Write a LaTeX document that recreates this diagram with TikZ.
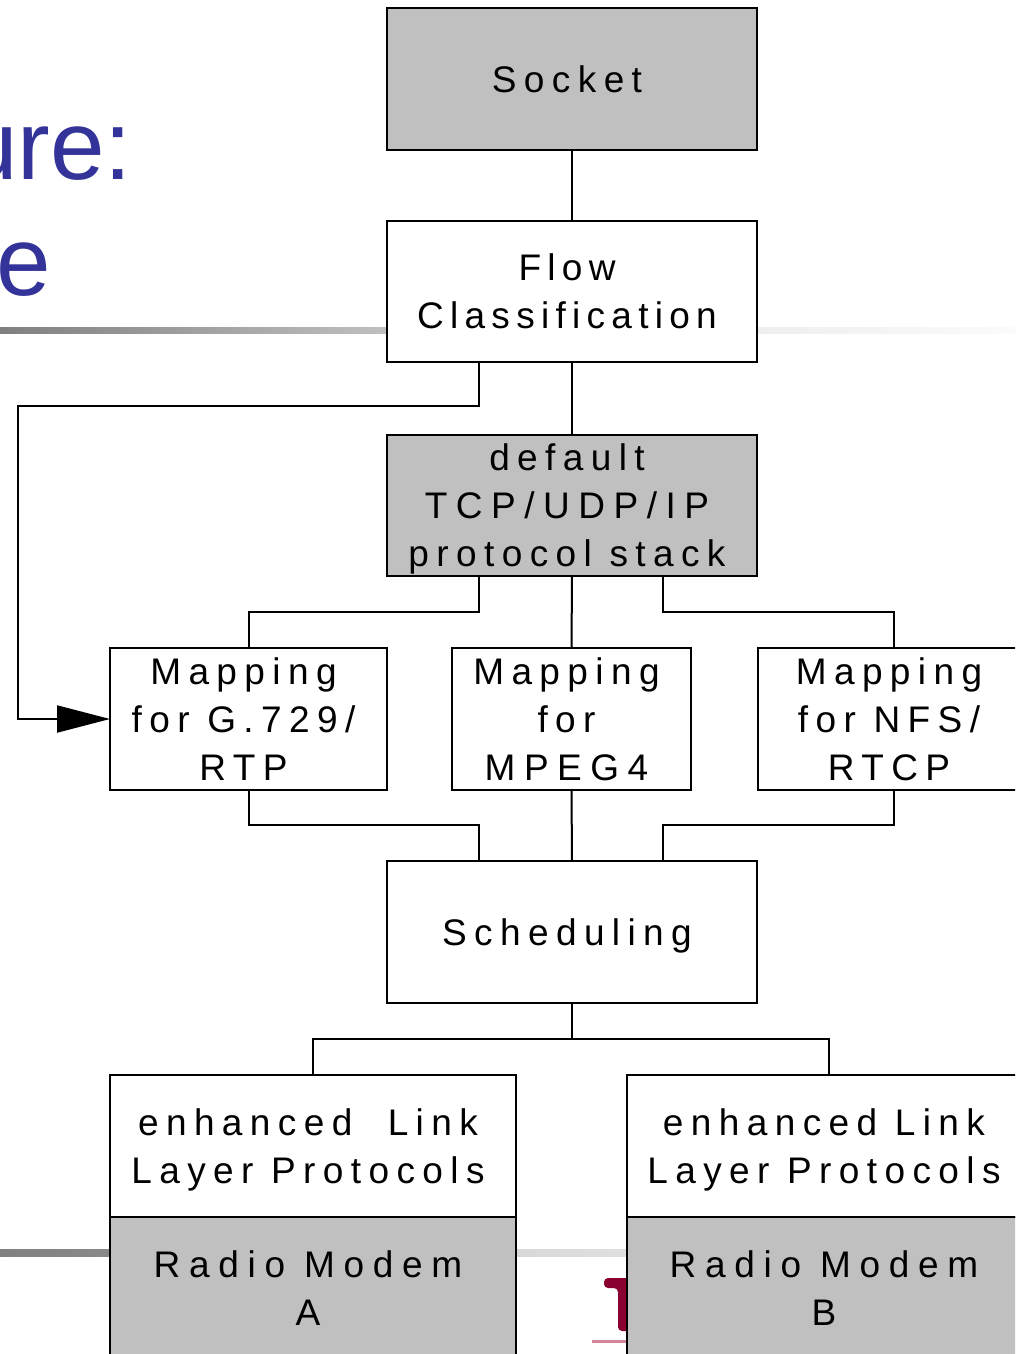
\documentclass[tikz,border=0pt]{standalone}
\usepackage{fontspec}
\setmainfont{Liberation Sans}
\newfontfamily\boxfont[LetterSpace=20]{Liberation Sans}
\newfontfamily\flowfont[LetterSpace=17]{Liberation Sans}
\newfontfamily\radiofont[LetterSpace=23.5]{Liberation Sans}
\newfontfamily\tcpfont[LetterSpace=23]{Liberation Sans}
\newcommand{\tk}{\kern10pt}
\usetikzlibrary{arrows.meta}
\definecolor{boxgray}{HTML}{C0C0C0}
\definecolor{titleblue}{HTML}{333399}
\definecolor{logored}{HTML}{8A0030}
\definecolor{logopink}{HTML}{D08898}
\tikzset{
  diag/.style={x=1pt,y=-1pt},
  stackbox/.style={draw=black,line width=2pt,inner sep=0pt,outer sep=0pt,
    align=center,text depth=0pt,font=\boxfont\fontsize{37}{48}\selectfont},
  whitebox/.style={stackbox,fill=white},
  graybox/.style={stackbox,fill=boxgray},
  wire/.style={draw=black,line width=2pt},
  titletext/.style={text=titleblue,inner sep=0pt,outer sep=0pt,font=\fontsize{98}{117}\selectfont}
}
\begin{document}
\begin{tikzpicture}[diag]
\useasboundingbox (0,0) rectangle (1015,1354);
\clip (0,0) rectangle (1015,1354);
% background slide fragments
\node[titletext,anchor=base east] (title1) at (132,179) {ure:};
\node[titletext,anchor=base west] (title2) at (-3,295) {e};
\shade[left color={rgb,255:red,128;green,128;blue,128},right color={rgb,255:red,192;green,192;blue,192}] (0,327) rectangle (390,333);
\shade[left color={rgb,255:red,238;green,238;blue,238},right color={rgb,255:red,251;green,251;blue,251}] (754,327) rectangle (1015,333);
\shade[left color={rgb,255:red,128;green,128;blue,128},right color={rgb,255:red,138;green,138;blue,138}] (0,1249) rectangle (112,1256);
\shade[left color={rgb,255:red,216;green,216;blue,216},right color={rgb,255:red,224;green,224;blue,224}] (514,1249) rectangle (630,1256);
\fill[logored,rounded corners=4pt] (645,1278) -- (604,1278) -- (604,1288) -- (618,1288) -- (618,1331) -- (645,1331) -- cycle;
\fill[logopink] (592,1340) rectangle (645,1343);
% boxes
\node[graybox,minimum width=370,minimum height=142] (socket) at (572,79) {Socket\tk};
\node[whitebox,minimum width=370,minimum height=141,font=\flowfont\fontsize{37}{48}\selectfont] (flow) at (572,291.5) {Flow\tk\\Classification\tk};
\node[graybox,minimum width=370,minimum height=141] (dflt) at (572,505.5) {default\tk\\{\tcpfont TCP/UDP/IP}\tk\\protocol stack\tk};
\node[whitebox,minimum width=277,minimum height=142] (map1) at (248.5,719) {Mapping\tk\\for G.729/\tk\\RTP\tk};
\node[whitebox,minimum width=239,minimum height=142] (map2) at (571.5,719) {Mapping\tk\\for\tk\\{\tcpfont MPEG4}\tk};
\node[whitebox,minimum width=272,minimum height=142] (map3) at (894,719) {Mapping\tk\\for NFS/\tk\\RTCP\tk};
\node[whitebox,minimum width=370,minimum height=142] (sched) at (572,932) {Scheduling\tk};
\node[whitebox,minimum width=406,minimum height=142] (linka) at (313,1146) {enhanced\ \ Link\tk\\Layer Protocols\tk};
\node[graybox,minimum width=406,minimum height=142,font=\radiofont\fontsize{37}{48}\selectfont] (radioa) at (313,1288) {Radio Modem\tk\\A\tk};
\node[whitebox,minimum width=404,minimum height=142] (linkb) at (829,1146) {enhanced Link\tk\\Layer Protocols\tk};
\node[graybox,minimum width=404,minimum height=142,font=\radiofont\fontsize{37}{48}\selectfont] (radiob) at (829,1288) {Radio Modem\tk\\B\tk};
% connectors
\coordinate (fbend) at (18,405.5);
\draw[wire] (socket.south) -- (flow.north);
\draw[wire] (flow.south) -- (dflt.north);
\draw[wire,-{Triangle[length=53pt,width=27pt]}] ([xshift=-93pt]flow.south) |- (fbend) |- (map1.west);
\draw[wire] ([xshift=-93pt]dflt.south) -- ++(0,36) -| (map1.north);
\draw[wire] (dflt.south) -- (map2.north);
\draw[wire] ([xshift=91pt]dflt.south) -- ++(0,36) -| (map3.north);
\draw[wire] (map1.south) -- ++(0,35) -| ([xshift=-93pt]sched.north);
\draw[wire] (map2.south) -- (sched.north);
\draw[wire] (map3.south) -- ++(0,35) -| ([xshift=91pt]sched.north);
\draw[wire] (sched.south) -- ++(0,36) coordinate (sj);
\draw[wire] (sj) -| (linka.north);
\draw[wire] (sj) -| (linkb.north);
\end{tikzpicture}
\end{document}
